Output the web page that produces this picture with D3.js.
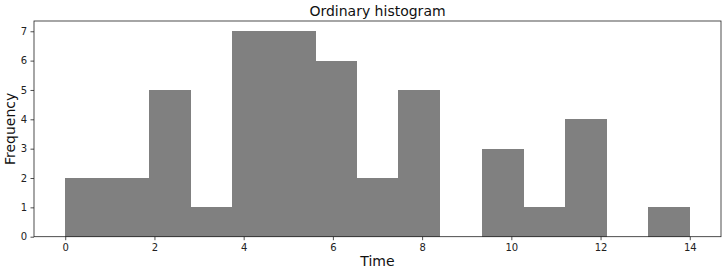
<!DOCTYPE html>
<html><head><meta charset="utf-8">
<script src="https://cdn.jsdelivr.net/npm/d3@7"></script>
<style>body{margin:0;background:#fff}svg{display:block}text{font-family:"DejaVu Sans",sans-serif}</style>
</head><body>
<script>
const binEdges = [0, 0.933, 1.867, 2.8, 3.733, 4.667, 5.6, 6.533, 7.467, 8.4, 9.333, 10.267, 11.2, 12.133, 13.067, 14];
const counts = [2, 2, 5, 1, 7, 7, 6, 2, 5, 0, 3, 1, 4, 0, 1];
const xTicks = [0, 2, 4, 6, 8, 10, 12, 14];
const yTicks = [0, 1, 2, 3, 4, 5, 6, 7];
const title = "Ordinary histogram";
const xLabel = "Time";
const yLabel = "Frequency";

const W = 726, H = 271;
const m = {left: 34, right: 5, top: 21, bottom: 34.3};
const svg = d3.select("body").append("svg").attr("width", W).attr("height", H);
const x = d3.scaleLinear().domain([-0.7, 14.7]).range([m.left, W - m.right]);
const y = d3.scaleLinear().domain([0, 7.35]).range([H - m.bottom, m.top]);

const bins = counts.map((c, i) => ({x0: binEdges[i], x1: binEdges[i + 1], c}));
svg.append("g").attr("shape-rendering", "crispEdges")
  .selectAll("rect").data(bins.filter(d => d.c > 0)).join("rect")
  .attr("x", d => x(d.x0)).attr("width", d => x(d.x1) - x(d.x0) + 0.5)
  .attr("y", d => y(d.c)).attr("height", d => y(0) - y(d.c))
  .attr("fill", "#808080");

const xa = svg.append("g").attr("transform", `translate(0,${H - m.bottom})`)
  .call(d3.axisBottom(x).tickValues(xTicks).tickSize(3.5).tickPadding(3.5).tickFormat(d3.format("d")));
const ya = svg.append("g").attr("transform", `translate(${m.left},0)`)
  .call(d3.axisLeft(y).tickValues(yTicks).tickSize(3.5).tickPadding(3.5).tickFormat(d3.format("d")));
[xa, ya].forEach(a => {
  a.select(".domain").remove();
  a.selectAll("text").attr("font-size", 10).attr("fill", "#222").attr("font-family", "DejaVu Sans");
  a.selectAll("line").attr("stroke", "#222").attr("stroke-width", 0.8);
});

svg.append("rect").attr("x", m.left).attr("y", m.top)
  .attr("width", W - m.right - m.left).attr("height", H - m.bottom - m.top)
  .attr("fill", "none").attr("stroke", "#222").attr("stroke-width", 0.8);

svg.append("text").attr("x", (m.left + W - m.right) / 2).attr("y", 16)
  .attr("text-anchor", "middle").attr("font-size", 14).attr("fill", "#111").text(title);
svg.append("text").attr("x", (m.left + W - m.right) / 2).attr("y", 266)
  .attr("text-anchor", "middle").attr("font-size", 14).attr("fill", "#111").text(xLabel);
svg.append("text").attr("transform", `translate(15,${(m.top + H - m.bottom) / 2}) rotate(-90)`)
  .attr("text-anchor", "middle").attr("font-size", 14).attr("fill", "#111").text(yLabel);
</script>
</body></html>
